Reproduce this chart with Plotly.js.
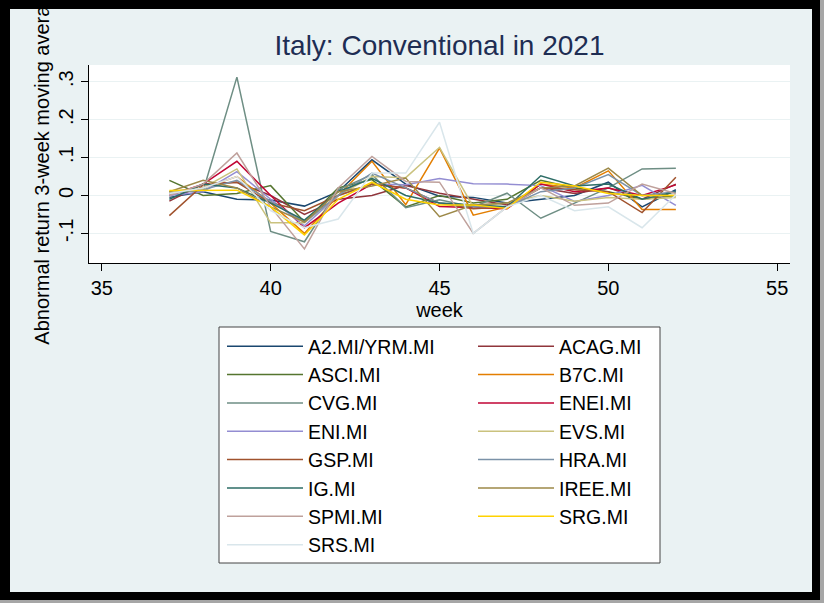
<!DOCTYPE html>
<html>
<head>
<meta charset="utf-8">
<script src="https://cdn.plot.ly/plotly-3.0.1.min.js"></script>
<style>html,body{margin:0;padding:0;background:#a6a6a6;}#chart{width:824px;height:603px;}</style>
</head>
<body>
<div id="chart"></div>
<script>
var weeks = [37,38,39,40,41,42,43,44,45,46,47,48,49,50,51,52];

var seriesNames = ["A2.MI/YRM.MI","ACAG.MI","ASCI.MI","B7C.MI","CVG.MI","ENEI.MI","ENI.MI","EVS.MI","GSP.MI","HRA.MI","IG.MI","IREE.MI","SPMI.MI","SRG.MI","SRS.MI"];

var A2   = [-0.005, 0.010,-0.010,-0.012,-0.028, 0.010, 0.094, 0.030,-0.002,-0.005,-0.020,-0.010, 0.000, 0.035,-0.030, 0.015];
var ACAG = [-0.015, 0.030, 0.035, 0.000,-0.050,-0.010, 0.000, 0.026, 0.006,-0.010,-0.025, 0.020, 0.005, 0.020,-0.010, 0.030];
var ASCI = [ 0.040, 0.000, 0.005, 0.026,-0.070, 0.020, 0.042,-0.030, 0.000,-0.020,-0.010, 0.040, 0.020, 0.010,-0.010, 0.000];
var B7C  = [ 0.010, 0.020, 0.050,-0.020,-0.100, 0.000, 0.090,-0.024, 0.125,-0.052,-0.030, 0.030, 0.020, 0.065,-0.037,-0.037];
var CVG  = [ 0.010, 0.012, 0.312,-0.095,-0.122, 0.015, 0.055,-0.032,-0.011,-0.030, 0.006,-0.060,-0.020, 0.020, 0.070, 0.072];
var ENEI = [ 0.000, 0.030, 0.090, 0.000,-0.085,-0.020, 0.030, 0.020,-0.029,-0.032,-0.035, 0.030, 0.010, 0.020, 0.000, 0.028];
var ENI  = [ 0.000, 0.010, 0.063,-0.010,-0.080, 0.000, 0.030, 0.028, 0.045, 0.031, 0.030, 0.026,-0.016, 0.000, 0.027,-0.026];
var EVS  = [ 0.010, 0.020, 0.070,-0.072,-0.072, 0.000, 0.050, 0.047, 0.127,-0.030,-0.020, 0.000,-0.015,-0.005,-0.010,-0.005];
var GSP  = [-0.053, 0.028, 0.035,-0.020,-0.040, 0.000, 0.030, 0.020,-0.020,-0.035,-0.030, 0.020, 0.015, 0.010,-0.045, 0.048];
var HRA  = [ 0.005, 0.015, 0.040,-0.015,-0.070, 0.000, 0.059, 0.020,-0.020,-0.030,-0.030, 0.010, 0.020, 0.055, 0.000, 0.010];
var IG   = [-0.010, 0.030, 0.020,-0.020,-0.065, 0.010, 0.045, 0.000,-0.020,-0.025,-0.030, 0.052, 0.025, 0.030,-0.010, 0.010];
var IREE = [ 0.010, 0.040, 0.020,-0.030,-0.070, 0.010, 0.025, 0.046,-0.056,-0.025,-0.020, 0.020, 0.025, 0.072, 0.000, 0.000];
var SPMI = [ 0.000, 0.030, 0.112,-0.030,-0.141, 0.020, 0.103, 0.037, 0.035,-0.100,-0.030, 0.020,-0.026,-0.020, 0.030, 0.005];
var SRG  = [ 0.013, 0.013, 0.014,-0.030,-0.104,-0.010, 0.035,-0.010,-0.025,-0.025,-0.034, 0.035, 0.025, 0.005, 0.000, 0.000];
var SRS  = [ 0.005, 0.020, 0.050,-0.040,-0.085,-0.062, 0.059, 0.059, 0.193,-0.100,-0.030, 0.000,-0.040,-0.030,-0.085, 0.002];

var seriesValues = [A2, ACAG, ASCI, B7C, CVG, ENEI, ENI, EVS, GSP, HRA, IG, IREE, SPMI, SRG, SRS];
var seriesColors = ["#1a476f","#90353b","#55752f","#e37e00","#6e8e84","#c10534","#938dd2","#cac27e","#a0522d","#7b92a8","#2d6d66","#9c8847","#bfa19c","#ffd200","#d9e6eb"];

var yTickVals = [-0.1, 0, 0.1, 0.2, 0.3];
var yTickText = ["-.1", "0", ".1", ".2", ".3"];
var xTickVals = [35, 40, 45, 50, 55];

var FONT = "Liberation Sans, Arial, sans-serif";

var traces = seriesNames.map(function (n, i) {
  return {
    x: weeks, y: seriesValues[i], name: n, type: "scatter", mode: "lines",
    line: {color: seriesColors[i], width: 1.5}
  };
});

// layout geometry (pixels)
var L = 89, R = 34, T = 65, B = 340, W = 824, H = 603;
var pw = W - L - R, ph = H - T - B;
function px(x) { return (x - L) / pw; }
function py(y) { return (H - B - y) / ph; }

var layout = {
  width: W, height: H,
  margin: {l: L, r: R, t: T, b: B, pad: 0, autoexpand: false},
  paper_bgcolor: "#a6a6a6",
  plot_bgcolor: "rgba(0,0,0,0)",
  font: {family: FONT, color: "#000000", size: 20},
  title: {text: "Italy: Conventional in 2021", font: {family: FONT, size: 28, color: "#1e2d53"},
          x: 0.5, xref: "paper", xanchor: "center", y: 1 - 45 / H, yref: "container", yanchor: "middle"},
  xaxis: {
    range: [34.62, 55.38], tickvals: xTickVals, ticks: "outside", ticklen: 7, tickcolor: "#000",
    showline: true, linecolor: "#000", linewidth: 1, showgrid: false, zeroline: false,
    tickfont: {size: 20}, title: {text: "week", font: {size: 20}, standoff: 2}
  },
  yaxis: {
    range: [-0.178, 0.344], tickvals: yTickVals, ticktext: yTickText, tickangle: -90,
    ticks: "outside", ticklen: 7, tickcolor: "#000",
    showline: true, linecolor: "#000", linewidth: 1,
    showgrid: true, gridcolor: "#eaf2f3", gridwidth: 1, zeroline: false,
    tickfont: {size: 20}, title: {text: "Abnormal return 3-week moving average", font: {size: 20}, standoff: 0}
  },
  showlegend: true,
  legend: {
    orientation: "h", x: px(222), y: py(327), xanchor: "left", yanchor: "top",
    bgcolor: "rgba(0,0,0,0)", borderwidth: 0,
    font: {family: FONT, size: 19.5, color: "#000"},
    entrywidth: 160, entrywidthmode: "pixels", itemwidth: 76, traceorder: "normal"
  },
  shapes: [
    {type: "rect", xref: "paper", yref: "paper", x0: px(0), x1: px(820), y0: py(600), y1: py(0),
     fillcolor: "#000000", line: {width: 0}, layer: "below"},
    {type: "rect", xref: "paper", yref: "paper", x0: px(10), x1: px(812), y0: py(592), y1: py(9),
     fillcolor: "#eaf2f3", line: {width: 0}, layer: "below"},
    {type: "rect", xref: "paper", yref: "paper", x0: 0, x1: 1, y0: 0, y1: 1,
     fillcolor: "#ffffff", line: {width: 0}, layer: "below"},
    {type: "rect", xref: "paper", yref: "paper", x0: px(219), x1: px(660), y0: py(563), y1: py(327),
     fillcolor: "#ffffff", line: {width: 1, color: "#444444"}, layer: "below"}
  ]
};

Plotly.newPlot("chart", traces, layout, {staticPlot: true, displayModeBar: false});
</script>
</body>
</html>
